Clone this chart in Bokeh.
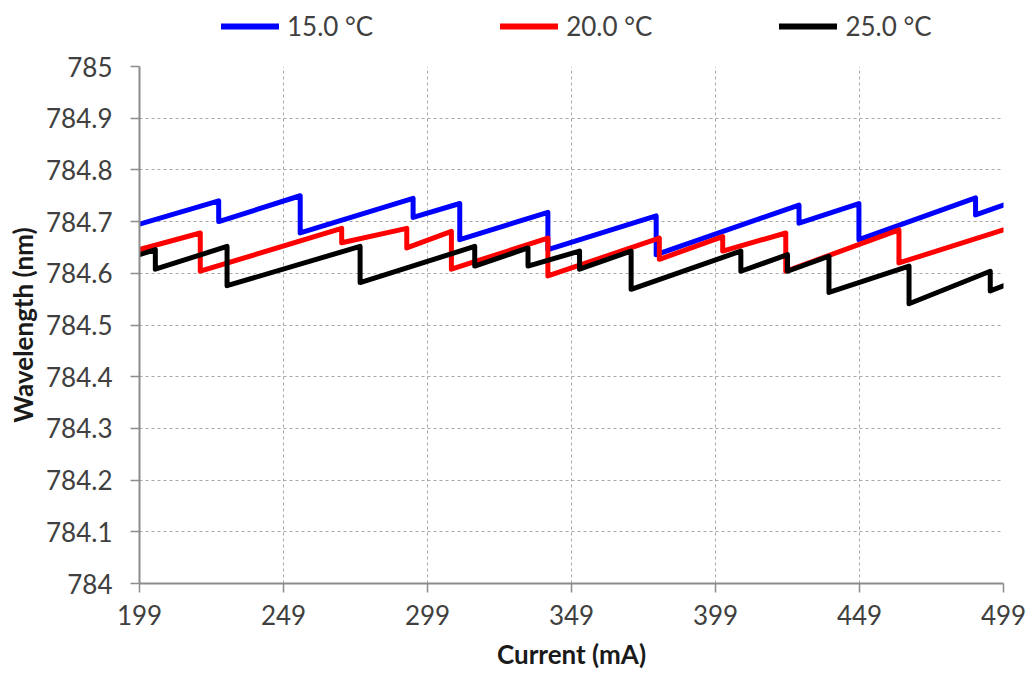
from bokeh.plotting import figure
from bokeh.layouts import column
from bokeh.models import Legend, LegendItem, FixedTicker, CustomJSTickFormatter, Range1d
from bokeh.embed import file_html
from bokeh.resources import INLINE

# ---- data ----
x_15 = [199, 226.5, 226.5, 254.8, 254.8, 294.0, 294.0, 310.2, 310.2, 340.8, 340.8,
        378.4, 378.4, 428.0, 428.0, 448.8, 448.8, 489.3, 489.3, 499]
y_15 = [784.695, 784.740, 784.700, 784.750, 784.678, 784.745, 784.708, 784.735, 784.665,
        784.718, 784.646, 784.711, 784.636, 784.732, 784.697, 784.735, 784.665, 784.746,
        784.713, 784.732]

x_20 = [199, 220.1, 220.1, 269.2, 269.2, 291.8, 291.8, 307.3, 307.3, 340.8, 340.8,
        379.5, 379.5, 401.5, 401.5, 423.4, 423.4, 462.7, 462.7, 499]
y_20 = [784.646, 784.678, 784.604, 784.687, 784.659, 784.687, 784.649, 784.681, 784.608,
        784.668, 784.595, 784.668, 784.627, 784.671, 784.643, 784.678, 784.604, 784.684,
        784.620, 784.684]

x_25 = [199, 204.5, 204.5, 229.4, 229.4, 275.6, 275.6, 315.4, 315.4, 333.9, 333.9,
        351.8, 351.8, 369.7, 369.7, 407.8, 407.8, 424.0, 424.0, 438.4, 438.4, 466.2,
        466.2, 494.4, 494.4, 499]
y_25 = [784.636, 784.646, 784.608, 784.652, 784.576, 784.652, 784.582, 784.652, 784.614,
        784.649, 784.614, 784.643, 784.608, 784.643, 784.569, 784.643, 784.604, 784.636,
        784.604, 784.633, 784.563, 784.614, 784.541, 784.604, 784.566, 784.576]

series_labels = ["15.0 °C", "20.0 °C", "25.0 °C"]
series_colors = ["#0000FF", "#FF0000", "#000000"]
x_ticks = [199, 249, 299, 349, 399, 449, 499]
y_ticks = [784.0, 784.1, 784.2, 784.3, 784.4, 784.5, 784.6, 784.7, 784.8, 784.9, 785.0]

FONT = "Lato"
TXT = "#404040"
xs_all = [x_15, x_20, x_25]
ys_all = [y_15, y_20, y_25]

# ---- main plot ----
p = figure(width=1032, height=634, output_backend="svg", toolbar_location=None,
           x_range=Range1d(199, 499), y_range=Range1d(784, 785),
           min_border_left=139, min_border_right=29, min_border_bottom=99, min_border_top=18)
p.outline_line_color = None

for xs, ys, c in zip(xs_all, ys_all, series_colors):
    p.line(xs, ys, line_color=c, line_width=5, line_join="round", line_cap="round")

for ax in (p.xaxis[0], p.yaxis[0]):
    ax.axis_line_color = "#8c8c8c"
    ax.axis_line_width = 2
    ax.major_tick_line_color = "#8c8c8c"
    ax.major_tick_line_width = 1.5
    ax.major_tick_out = 9
    ax.major_tick_in = 0
    ax.minor_tick_line_color = None
    ax.major_label_text_font = FONT
    ax.major_label_text_font_size = "26px"
    ax.major_label_text_color = TXT
    ax.axis_label_text_font = FONT
    ax.axis_label_text_font_size = "26px"
    ax.axis_label_text_font_style = "bold"
    ax.axis_label_text_color = "#1a1a1a"

p.xaxis.ticker = FixedTicker(ticks=x_ticks)
p.yaxis.ticker = FixedTicker(ticks=y_ticks)
p.yaxis.formatter = CustomJSTickFormatter(code="return String(Number(tick.toFixed(1)));")
p.xaxis.axis_label = "Current (mA)"
p.yaxis.axis_label = "Wavelength (nm)"
p.xaxis.major_label_standoff = 12
p.yaxis.major_label_standoff = 18
p.xaxis.axis_label_standoff = 10
p.yaxis.axis_label_standoff = 4

for g in (p.xgrid[0], p.ygrid[0]):
    g.grid_line_color = "#a8a8a8"
    g.grid_line_dash = "3 3"
    g.grid_line_width = 1

# ---- legend strip on top (its frame is aligned with the main frame) ----
lf = figure(width=1032, height=48, output_backend="svg", toolbar_location=None,
            x_range=Range1d(0, 1), y_range=Range1d(0, 1),
            x_axis_location=None, y_axis_location=None,
            min_border_left=0, min_border_right=0, min_border_top=0, min_border_bottom=0)
lf.outline_line_color = None
lf.xgrid.visible = False
lf.ygrid.visible = False
lrs = [lf.line(xs, ys, line_color=c, line_width=6, line_cap="round")
       for xs, ys, c in zip(xs_all, ys_all, series_colors)]
legend = Legend(items=[LegendItem(label=l, renderers=[r]) for l, r in zip(series_labels, lrs)],
                orientation="horizontal", location=(82, 6),
                label_text_font=FONT, label_text_font_size="26px", label_text_color=TXT,
                glyph_width=58, glyph_height=20, label_standoff=8, spacing=127,
                padding=0, margin=0, border_line_color=None, background_fill_alpha=0)
lf.add_layout(legend, "center")

layout = column(lf, p, spacing=0)
open("out.html", "w").write(file_html(layout, INLINE))
